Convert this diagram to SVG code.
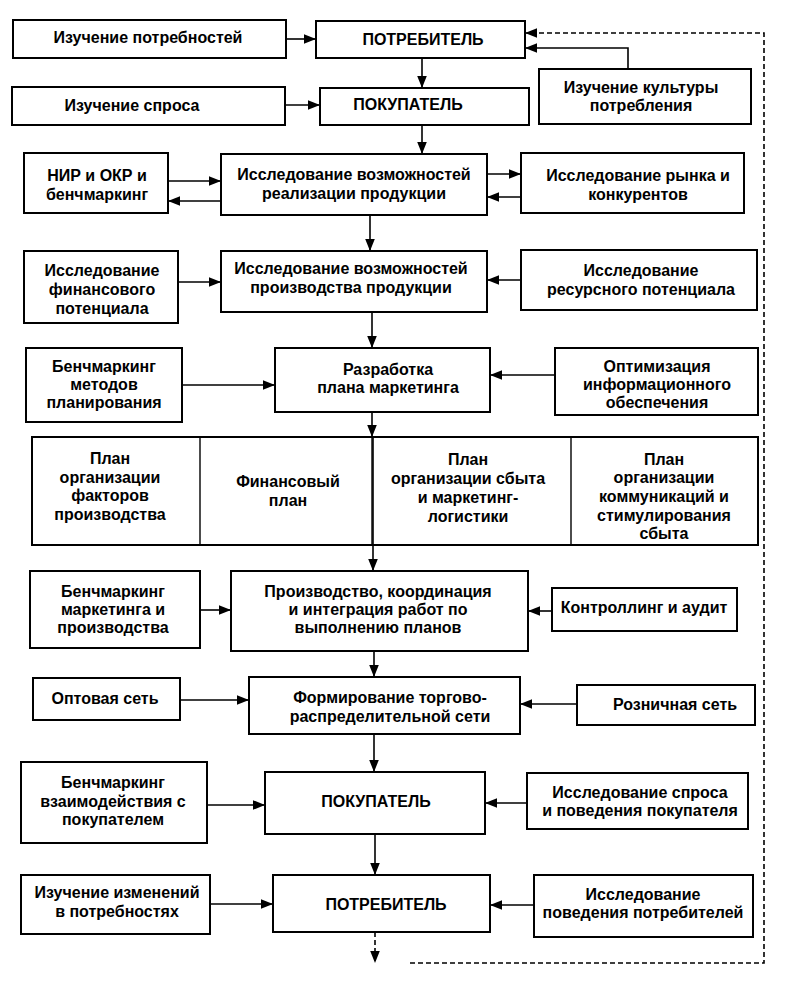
<svg xmlns="http://www.w3.org/2000/svg" width="795" height="1002" viewBox="0 0 795 1002">
<defs>
<marker id="ah" viewBox="0 0 10 8" refX="10" refY="4" markerWidth="12" markerHeight="10" markerUnits="userSpaceOnUse" orient="auto">
<path d="M0,0 L10,4 L0,8 Z" fill="#000"/>
</marker>
<style>
rect.b{fill:#fff;stroke:#000;stroke-width:2}
line.d{stroke:#000;stroke-width:1.4}
text{font-family:"Liberation Sans",Arial,sans-serif;font-size:16px;font-weight:bold;fill:#000;text-anchor:middle}
.c{stroke:#000;stroke-width:1.6;fill:none;marker-end:url(#ah)}
.dash{stroke-dasharray:5 3}
</style>
</defs>
<rect width="795" height="1002" fill="#fff"/>

<g id="n1"><rect class="b" x="13" y="20" width="273" height="38"/><text x="148" y="43">Изучение потребностей</text></g>
<g id="n2"><rect class="b" x="316" y="21" width="209" height="37"/><text x="423" y="45">ПОТРЕБИТЕЛЬ</text></g>
<g id="n3"><rect class="b" x="539" y="69" width="212" height="55"/><text x="641" y="93">Изучение культуры</text><text x="641" y="111">потребления</text></g>
<g id="n4"><rect class="b" x="12" y="87" width="273" height="38"/><text x="132" y="111">Изучение спроса</text></g>
<g id="n5"><rect class="b" x="320" y="88" width="209" height="37"/><text x="408" y="110">ПОКУПАТЕЛЬ</text></g>

<g id="n6"><rect class="b" x="24" y="153" width="144" height="60"/><text x="97" y="181">НИР и ОКР и</text><text x="97" y="200">бенчмаркинг</text></g>
<g id="n7"><rect class="b" x="221" y="154" width="266" height="61"/><text x="354" y="180">Исследование возможностей</text><text x="354" y="199">реализации продукции</text></g>
<g id="n8"><rect class="b" x="521" y="153" width="223" height="60"/><text x="638" y="181">Исследование рынка и</text><text x="638" y="200">конкурентов</text></g>

<g id="n9"><rect class="b" x="24" y="251" width="154" height="72"/><text x="102" y="276">Исследование</text><text x="102" y="295">финансового</text><text x="102" y="314">потенциала</text></g>
<g id="n10"><rect class="b" x="221" y="251" width="266" height="61"/><text x="351" y="274">Исследование возможностей</text><text x="351" y="293">производства продукции</text></g>
<g id="n11"><rect class="b" x="521" y="250" width="236" height="60"/><text x="641" y="276">Исследование</text><text x="641" y="295">ресурсного потенциала</text></g>

<g id="n12"><rect class="b" x="26" y="348" width="156" height="74"/><text x="104" y="372">Бенчмаркинг</text><text x="104" y="390">методов</text><text x="104" y="408">планирования</text></g>
<g id="n13"><rect class="b" x="275" y="348" width="215" height="64"/><text x="388" y="375">Разработка</text><text x="388" y="393">плана маркетинга</text></g>
<g id="n14"><rect class="b" x="555" y="348" width="203" height="67"/><text x="657" y="372">Оптимизация</text><text x="657" y="390">информационного</text><text x="657" y="408">обеспечения</text></g>

<g id="n15">
<rect class="b" x="32" y="437" width="726" height="108"/>
<line class="d" x1="200" y1="437" x2="200" y2="545"/>
<line class="d" x1="372" y1="437" x2="372" y2="545"/>
<line class="d" x1="571" y1="437" x2="571" y2="545"/>
<text x="110" y="464">План</text><text x="110" y="483">организации</text><text x="110" y="501">факторов</text><text x="110" y="520">производства</text>
<text x="288" y="487">Финансовый</text><text x="288" y="506">план</text>
<text x="468" y="465">План</text><text x="468" y="484">организации сбыта</text><text x="468" y="503">и маркетинг-</text><text x="468" y="522">логистики</text>
<text x="664" y="465">План</text><text x="664" y="483">организации</text><text x="664" y="502">коммуникаций и</text><text x="664" y="521">стимулирования</text><text x="664" y="539">сбыта</text>
</g>

<g id="n16"><rect class="b" x="30" y="571" width="170" height="77"/><text x="113" y="597">Бенчмаркинг</text><text x="113" y="615">маркетинга и</text><text x="113" y="633">производства</text></g>
<g id="n17"><rect class="b" x="231" y="571" width="297" height="80"/><text x="378" y="597">Производство, координация</text><text x="378" y="615">и интеграция работ по</text><text x="378" y="633">выполнению планов</text></g>
<g id="n18"><rect class="b" x="552" y="588" width="185" height="43"/><text x="644" y="613">Контроллинг и аудит</text></g>

<g id="n19"><rect class="b" x="33" y="678" width="147" height="42"/><text x="105" y="704">Оптовая сеть</text></g>
<g id="n20"><rect class="b" x="249" y="677" width="271" height="57"/><text x="390" y="703">Формирование торгово-</text><text x="390" y="722">распределительной сети</text></g>
<g id="n21"><rect class="b" x="577" y="685" width="178" height="40"/><text x="675" y="710">Розничная сеть</text></g>

<g id="n22"><rect class="b" x="21" y="762" width="186" height="81"/><text x="113" y="788">Бенчмаркинг</text><text x="113" y="807">взаимодействия с</text><text x="113" y="825">покупателем</text></g>
<g id="n23"><rect class="b" x="265" y="772" width="220" height="62"/><text x="376" y="807">ПОКУПАТЕЛЬ</text></g>
<g id="n24"><rect class="b" x="527" y="773" width="221" height="56"/><text x="640" y="798">Исследование спроса</text><text x="640" y="816">и поведения покупателя</text></g>

<g id="n25"><rect class="b" x="21" y="875" width="189" height="59"/><text x="117" y="898">Изучение изменений</text><text x="117" y="917">в потребностях</text></g>
<g id="n26"><rect class="b" x="273" y="875" width="217" height="57"/><text x="386" y="910">ПОТРЕБИТЕЛЬ</text></g>
<g id="n27"><rect class="b" x="534" y="875" width="219" height="62"/><text x="643" y="900">Исследование</text><text x="643" y="918">поведения потребителей</text></g>

<g id="connectors">
<line class="c" x1="286" y1="39" x2="316" y2="39"/>
<polyline class="c" points="628,69 628,48 525,48"/>
<polyline class="c dash" points="410,963 764,963 764,33 525,33"/>
<line class="c" x1="422" y1="58" x2="422" y2="88"/>
<line class="c" x1="285" y1="105" x2="320" y2="105"/>
<line class="c" x1="422" y1="125" x2="422" y2="154"/>
<line class="c" x1="168" y1="181" x2="221" y2="181"/>
<line class="c" x1="221" y1="201" x2="168" y2="201"/>
<line class="c" x1="487" y1="174" x2="521" y2="174"/>
<line class="c" x1="521" y1="197" x2="487" y2="197"/>
<line class="c" x1="370" y1="215" x2="370" y2="251"/>
<line class="c" x1="178" y1="282" x2="221" y2="282"/>
<line class="c" x1="521" y1="280" x2="487" y2="280"/>
<line class="c" x1="372" y1="312" x2="372" y2="348"/>
<line class="c" x1="182" y1="385" x2="275" y2="385"/>
<line class="c" x1="555" y1="375" x2="490" y2="375"/>
<line class="c" x1="372" y1="412" x2="372" y2="437"/>
<line class="c" x1="373" y1="437" x2="373" y2="571"/>
<line class="c" x1="200" y1="610" x2="231" y2="610"/>
<line class="c" x1="552" y1="611" x2="528" y2="611"/>
<line class="c" x1="374" y1="651" x2="374" y2="677"/>
<line class="c" x1="180" y1="700" x2="249" y2="700"/>
<line class="c" x1="577" y1="704" x2="520" y2="704"/>
<line class="c" x1="374" y1="734" x2="374" y2="772"/>
<line class="c" x1="207" y1="805" x2="265" y2="805"/>
<line class="c" x1="527" y1="803" x2="485" y2="803"/>
<line class="c" x1="375" y1="834" x2="375" y2="875"/>
<line class="c" x1="210" y1="904" x2="273" y2="904"/>
<line class="c" x1="534" y1="905" x2="490" y2="905"/>
<line class="c dash" x1="375" y1="932" x2="375" y2="963"/>
</g>
</svg>
